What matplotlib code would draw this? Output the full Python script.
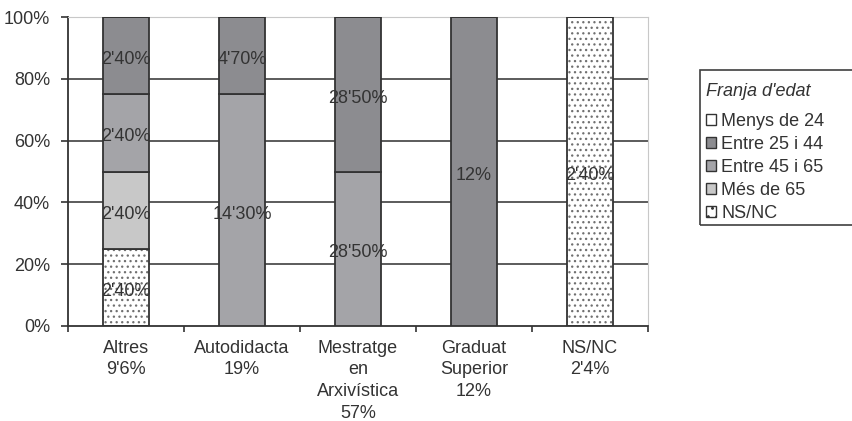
import matplotlib
matplotlib.use("Agg")
import matplotlib.pyplot as plt
import matplotlib.transforms as mtransforms
from matplotlib.patches import Rectangle
import numpy as np

plt.rcParams["font.family"] = ["Liberation Sans", "DejaVu Sans"]
plt.rcParams["hatch.linewidth"] = 0.9

CATEGORIES = [
    "Altres\n9'6%",
    "Autodidacta\n19%",
    "Mestratge\nen\nArxivística\n57%",
    "Graduat\nSuperior\n12%",
    "NS/NC\n2'4%",
]
Y_TICKS = [0, 20, 40, 60, 80, 100]
Y_TICK_LABELS = ["0%", "20%", "40%", "60%", "80%", "100%"]
LEGEND_TITLE = "Franja d'edat"

# stacked from the bottom up (shares of each bar, in %)
NS_NC = [25, 0, 0, 0, 100]
MES_65 = [25, 0, 0, 0, 0]
ENTRE_45_65 = [25, 75, 50, 0, 0]
ENTRE_25_44 = [25, 25, 50, 100, 0]
MENYS_24 = [0, 0, 0, 0, 0]

# text printed on each segment
NS_NC_TXT = ["2'40%", "", "", "", "2'40%"]
MES_65_TXT = ["2'40%", "", "", "", ""]
ENTRE_45_65_TXT = ["2'40%", "14'30%", "28'50%", "", ""]
ENTRE_25_44_TXT = ["2'40%", "4'70%", "28'50%", "12%", ""]
MENYS_24_TXT = ["", "", "", "", ""]

TEXT_COLOR = "#333333"
EDGE = "#333333"
FS = 13

series = [
    ("NS/NC", NS_NC, NS_NC_TXT, "white", "..."),
    ("Més de 65", MES_65, MES_65_TXT, "#c8c8c8", None),
    ("Entre 45 i 65", ENTRE_45_65, ENTRE_45_65_TXT, "#a4a4a8", None),
    ("Entre 25 i 44", ENTRE_25_44, ENTRE_25_44_TXT, "#8c8c90", None),
    ("Menys de 24", MENYS_24, MENYS_24_TXT, "white", None),
]

fig = plt.figure(figsize=(8.53, 4.21), dpi=100)
ax = fig.add_axes([68 / 853, 1 - 326 / 421, 580 / 853, 309 / 421])

x = np.arange(len(CATEGORIES))
width = 0.4
bottom = np.zeros(len(CATEGORIES))
handles = []
label_shift = mtransforms.ScaledTranslation(0, -4 / 100, fig.dpi_scale_trans)

for name, vals, txts, color, hatch in series:
    vals = np.array(vals, dtype=float)
    if hatch:
        ax.bar(x, vals, width, bottom=bottom, color=color, edgecolor="#707070",
               hatch=hatch, linewidth=0, zorder=2)
        ax.bar(x, vals, width, bottom=bottom, fill=False, edgecolor=EDGE,
               linewidth=1.3, zorder=3)
        handle = Rectangle((0, 0), 1, 1, facecolor=color, edgecolor=EDGE,
                           hatch="..", linewidth=1.0)
    else:
        ax.bar(x, vals, width, bottom=bottom, color=color, edgecolor=EDGE,
               linewidth=1.3, zorder=3)
        handle = Rectangle((0, 0), 1, 1, facecolor=color, edgecolor=EDGE,
                           linewidth=1.0)
    handles.append((handle, name))
    for xi, b, v, t in zip(x, bottom, vals, txts):
        if v > 0 and t:
            ax.text(xi, b + v / 2, t, ha="center", va="center", fontsize=FS,
                    color=TEXT_COLOR, zorder=4,
                    transform=ax.transData + label_shift)
    bottom = bottom + vals

ax.set_xlim(-0.5, len(CATEGORIES) - 0.5)
ax.set_ylim(0, 100)

ax.set_yticks(Y_TICKS)
ax.set_yticklabels(Y_TICK_LABELS)
for lbl in ax.get_yticklabels():
    lbl.set_transform(lbl.get_transform() + label_shift)
ax.tick_params(axis="y", length=5, width=1.2, color=EDGE, pad=8,
               labelsize=FS, labelcolor=TEXT_COLOR)

ax.set_xticks(np.arange(len(CATEGORIES) + 1) - 0.5)
ax.set_xticklabels([])
ax.tick_params(axis="x", which="major", length=4, width=1.2, color=EDGE)
ax.set_xticks(x, minor=True)
ax.set_xticklabels(CATEGORIES, minor=True, fontsize=FS, color=TEXT_COLOR,
                   linespacing=1.35)
ax.tick_params(axis="x", which="minor", length=0, pad=10)

for yv in Y_TICKS[1:-1]:
    ax.axhline(yv, color="#404040", linewidth=1.2, zorder=1)

ax.spines["left"].set_color(EDGE)
ax.spines["left"].set_linewidth(1.3)
ax.spines["bottom"].set_color(EDGE)
ax.spines["bottom"].set_linewidth(1.3)
ax.spines["top"].set_color("#c8c8c8")
ax.spines["right"].set_color("#c8c8c8")

# legend, top entry first (reverse of stacking order)
leg_handles = [h for h, _ in handles[::-1]]
leg_labels = [n for _, n in handles[::-1]]
leg = fig.legend(leg_handles, leg_labels, loc="upper left",
                 bbox_to_anchor=(706 / 853, 1 - 113 / 421), frameon=False,
                 fontsize=FS, handlelength=0.55, handleheight=0.55,
                 handletextpad=0.3, labelspacing=0.33, borderaxespad=0,
                 borderpad=0)
for t in leg.get_texts():
    t.set_color(TEXT_COLOR)
fig.text(758 / 853, 1 - 92 / 421, LEGEND_TITLE, ha="center", va="center",
         fontsize=FS, style="italic", color=TEXT_COLOR)

fig.patches.append(Rectangle((700 / 853, 1 - 225 / 421), 170 / 853, 155 / 421,
                             transform=fig.transFigure, fill=False,
                             edgecolor="#404040", linewidth=1.2))

fig.savefig("out.png", dpi=100)
